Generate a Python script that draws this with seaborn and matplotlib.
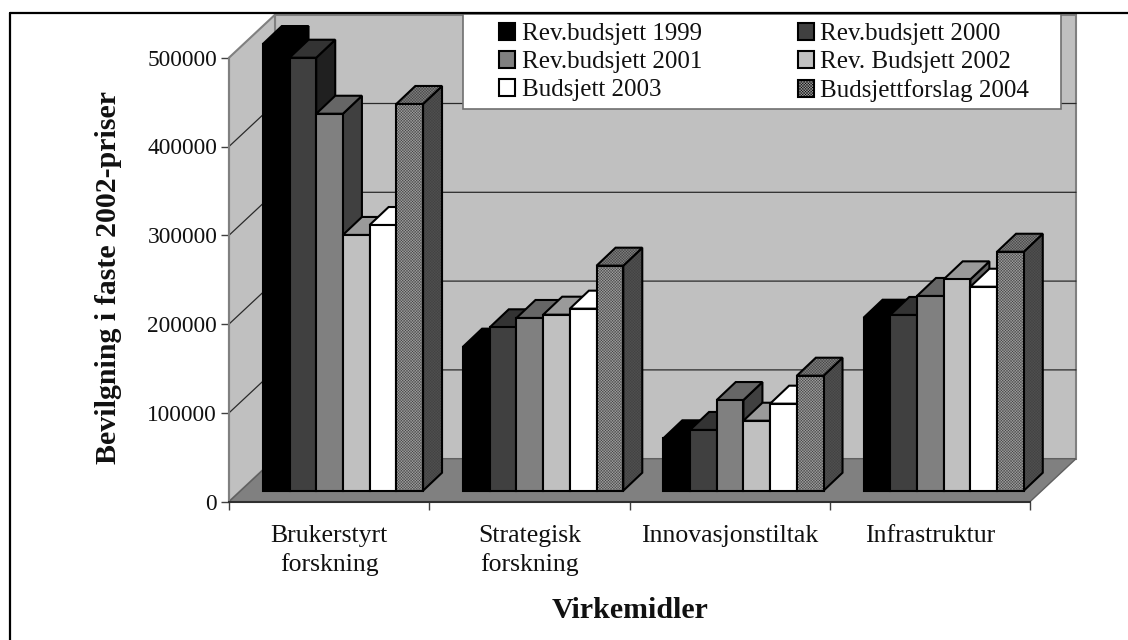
import pandas as pd
import seaborn as sns
import matplotlib.pyplot as plt
from matplotlib.lines import Line2D
from matplotlib.patches import Patch, Polygon, Rectangle
from matplotlib.ticker import FixedLocator

sns.set_style("white")
plt.rcParams['font.family'] = ['Liberation Serif', 'DejaVu Serif']
plt.rcParams['hatch.linewidth'] = 0.3

# values
categories = ["Brukerstyrt\nforskning", "Strategisk\nforskning", "Innovasjonstiltak", "Infrastruktur"]
series_names = ["Rev.budsjett 1999", "Rev.budsjett 2000", "Rev.budsjett 2001",
                "Rev. Budsjett 2002", "Budsjett 2003", "Budsjettforslag 2004"]
rev_1999 = [503000, 162200, 59000, 194800]
rev_2000 = [487600, 184000, 68400, 197900]
rev_2001 = [424500, 194500, 102100, 219300]
rev_2002 = [288000, 198200, 78800, 238000]
bud_2003 = [299200, 205000, 98000, 229700]
bud_2004 = [435500, 253400, 129500, 269100]
yticks = [0, 100000, 200000, 300000, 400000, 500000]

front_colors = ["#000000", "#404040", "#808080", "#c0c0c0", "#ffffff", "#a0a0a0"]
top_colors = ["#000000", "#333333", "#666666", "#9a9a9a", "#ffffff", "#808080"]
side_colors = ["#000000", "#202020", "#404040", "#606060", "#808080", "#505050"]
DITHER = "#404040"

W, H = 1128, 640
mydata = pd.DataFrame({"cat": categories * 6,
                       "serie": [s for s in series_names for _ in categories],
                       "verdi": rev_1999 + rev_2000 + rev_2001 + rev_2002 + bud_2003 + bud_2004})

f = plt.figure(figsize=(W / 100, H / 100), dpi=100)
ax = f.add_axes([229 / W, 1 - 501.7 / H, 801 / W, 444 / H])


def figx(px):
    return px / W


def figy(py):
    return 1 - py / H


sns.barplot(data=mydata, x="cat", y="verdi", hue="serie", hue_order=series_names,
            palette=front_colors, width=0.8, gap=0, legend=False, ax=ax,
            edgecolor="black", linewidth=1.5, saturation=1, errorbar=None)
ax.set_xlim(-0.5, 3.5)
ax.set_ylim(0, 500000)

# pixels to data units, the 3d look is only offsets in the plane
ux = 4 / 801
uy = 500000 / 444
wall_dx, wall_dy = 46 * ux, 43 * uy
bar_dx, bar_dy = 13.8 * ux, 11 * uy
deep_dx, deep_dy = 19 * ux, 18 * uy


def face(pts, fc, z, hatch=None):
    if hatch:
        ax.add_patch(Polygon(pts, facecolor=fc, edgecolor=DITHER, hatch=hatch, lw=0,
                             zorder=z, clip_on=False))
        fc = "none"
    ax.add_patch(Polygon(pts, facecolor=fc, edgecolor="black", lw=1.5, zorder=z,
                         clip_on=False, joinstyle="miter"))


# walls and floor
x0, x1, ytop = -0.5, 3.5, 500000
wall_kw = dict(facecolor="#c0c0c0", edgecolor="#808080", lw=1.5, zorder=0.5, clip_on=False)
ax.add_patch(Polygon([(x0 + wall_dx, wall_dy), (x1 + wall_dx, wall_dy),
                      (x1 + wall_dx, ytop + wall_dy), (x0 + wall_dx, ytop + wall_dy)], **wall_kw))
ax.add_patch(Polygon([(x0, 0), (x0 + wall_dx, wall_dy), (x0 + wall_dx, ytop + wall_dy), (x0, ytop)], **wall_kw))
ax.add_patch(Polygon([(x0, 0), (x1, 0), (x1 + wall_dx, wall_dy), (x0 + wall_dx, wall_dy)],
                     facecolor="#808080", edgecolor="#606060", lw=1, zorder=0.6, clip_on=False))
for v in yticks[1:-1]:
    ax.plot([x0, x0 + wall_dx, x1 + wall_dx], [v, v + wall_dy, v + wall_dy],
            color="#2a2a2a", lw=0.9, zorder=0.7, clip_on=False)

# bars from seaborn, moved back from the front plane, with side and top added
bars = []
for i, cont in enumerate(ax.containers):
    for b in cont:
        bars.append((b.get_x(), i, b))
bars.sort(key=lambda t: t[0])
for n, (_, i, b) in enumerate(bars):
    z = 3 + n * 0.05
    b.set_x(b.get_x() + bar_dx)
    b.set_y(bar_dy)
    b.set_clip_on(False)
    bx, bw, bh = b.get_x(), b.get_width(), b.get_height() + bar_dy
    hatch = "xxxxxxxxxxxx" if i == 5 else None
    face([(bx + bw, bar_dy), (bx + bw + deep_dx, bar_dy + deep_dy),
          (bx + bw + deep_dx, bh + deep_dy), (bx + bw, bh)], side_colors[i], z, hatch)
    face([(bx, bh), (bx + bw, bh), (bx + bw + deep_dx, bh + deep_dy), (bx + deep_dx, bh + deep_dy)],
         top_colors[i], z + 0.01, hatch)
    b.set_zorder(z + 0.02)
    if i == 5:
        b.set_linewidth(0)
        b.set_edgecolor(DITHER)
        b.set_hatch(hatch)
        ax.add_patch(Rectangle((bx, bar_dy), bw, b.get_height(), facecolor="none", edgecolor="black",
                               lw=1.5, zorder=z + 0.03, clip_on=False))

# axes
sns.despine(ax=ax, top=True, right=True)
ax.spines["left"].set_color("#808080")
ax.spines["left"].set_linewidth(1.5)
ax.spines["bottom"].set_color("#303030")
ax.spines["bottom"].set_linewidth(1.5)
ax.set_yticks(yticks)
ax.tick_params(axis="y", left=True, length=5.5, width=1, color="#404040", pad=3, labelsize=16.8,
               labelcolor="#111111")
ax.xaxis.set_minor_locator(FixedLocator([-0.5, 0.5, 1.5, 2.5, 3.5]))
ax.tick_params(axis="x", which="major", bottom=False, pad=13.5, labelsize=18.5, labelcolor="#111111")
ax.tick_params(axis="x", which="minor", bottom=True, length=5.5, width=1, color="#404040")
for lab in ax.get_xticklabels():
    lab.set_linespacing(1.32)
ax.set_xlabel("")
ax.set_ylabel("")
f.text(figx(630), figy(610), "Virkemidler", fontsize=21.5, fontweight="bold",
       ha="center", va="center", color="#111111")
f.text(figx(109), figy(277), "Bevilgning i faste 2002-priser", fontsize=21.5, fontweight="bold",
       rotation=90, ha="center", va="center", color="#111111")

# legend box and entries
ax.add_patch(Rectangle((figx(463), figy(109)), 598 / W, 95 / H, transform=f.transFigure,
                       facecolor="white", edgecolor="#707070", lw=1.2, zorder=4.5, clip_on=False))
handles = []
for i in [0, 2, 4, 1, 3, 5]:
    if i == 5:
        handles.append(Patch(facecolor=front_colors[i], edgecolor="black", hatch="xxxxxxxxxxxx", lw=1.5))
    else:
        handles.append(Patch(facecolor=front_colors[i], edgecolor="black", lw=1.5))
labels = [series_names[i] for i in [0, 2, 4, 1, 3, 5]]
leg = ax.legend(handles, labels, ncol=2, frameon=False, loc="upper left",
                bbox_to_anchor=(figx(499), figy(23)), bbox_transform=f.transFigure,
                borderaxespad=0, borderpad=0, fontsize=18, handlelength=0.64, handleheight=0.64,
                handletextpad=0.26, labelspacing=0.24, columnspacing=3.84)
leg.set_zorder(5)
leg.get_frame().set_linewidth(0)
for t in leg.get_texts():
    t.set_color("#111111")

# frame, open to the right and below
f.add_artist(Line2D([figx(9.5), figx(9.5)], [0, figy(13)], color="black", lw=1.6, transform=f.transFigure))
f.add_artist(Line2D([figx(9.5), 1], [figy(13), figy(13)], color="black", lw=1.6, transform=f.transFigure))

f.savefig("out.png", dpi=100)
